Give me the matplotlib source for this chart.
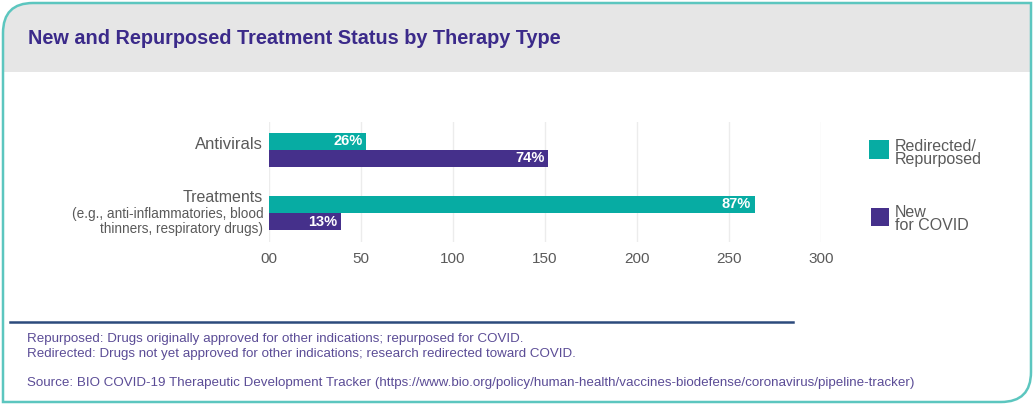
import numpy as np
import matplotlib
matplotlib.use("Agg")
import matplotlib.pyplot as plt
from matplotlib.path import Path
from matplotlib.patches import PathPatch, Rectangle
from matplotlib.lines import Line2D

# --- data ---
categories = ["Antivirals", "Treatments"]
cat_notes = ["", "(e.g., anti-inflammatories, blood\nthinners, respiratory drugs)"]
repurposed = [53, 264]
new_covid = [152, 39]
repurposed_pct = ["26%", "87%"]
new_pct = ["74%", "13%"]
xticks = [0, 50, 100, 150, 200, 250, 300]
xtick_labels = ["00", "50", "100", "150", "200", "250", "300"]

TEAL = "#07aca3"
PURPLE = "#45308b"
TITLE_C = "#3b2a8a"
GREY = "#5a5a5a"
NOTE_C = "#5b4c96"

plt.rcParams["font.family"] = ["Liberation Sans", "DejaVu Sans"]

W, H = 1035, 408
fig = plt.figure(figsize=(W / 100, H / 100), dpi=100)


def px(x, y):
    return x / W, 1 - y / H


# frame: rounded top-left and bottom-right corners
r = 30
x0, y0, x1, y1 = 3, 3, 1031, 402
verts = [px(x0, y0 + r), px(x0, y0), px(x0 + r, y0), px(x1, y0), px(x1, y1 - r),
         px(x1, y1), px(x1 - r, y1), px(x0, y1), px(x0, y0 + r)]
codes = [Path.MOVETO, Path.CURVE3, Path.CURVE3, Path.LINETO, Path.LINETO,
         Path.CURVE3, Path.CURVE3, Path.LINETO, Path.CLOSEPOLY]
frame = PathPatch(Path(verts, codes), transform=fig.transFigure, facecolor="white",
                  edgecolor="none", zorder=-2)
fig.patches.append(frame)
hdr = Rectangle(px(0, 72), 1, 72 / H, transform=fig.transFigure, facecolor="#e6e6e6",
                edgecolor="none", zorder=-1)
hdr.set_clip_path(frame)
fig.patches.append(hdr)
fig.patches.append(PathPatch(Path(verts, codes), transform=fig.transFigure, facecolor="none",
                             edgecolor="#5cc6bf", lw=1.8, zorder=5))

fig.text(*px(28, 39), "New and Repurposed Treatment Status by Therapy Type",
         color=TITLE_C, fontsize=14.3, fontweight="bold", va="center")

# --- bars ---
ax = fig.add_axes([268.75 / W, (H - 242) / H, 552 / W, 120 / H])
ax.set_facecolor("none")
pos = np.arange(len(categories))
h = 0.27
b1 = ax.barh(pos - h / 2, repurposed, height=h, color=TEAL)
b2 = ax.barh(pos + h / 2, new_covid, height=h, color=PURPLE)
for bars, labs in [(b1, repurposed_pct), (b2, new_pct)]:
    for b, t in zip(bars, labs):
        ax.text(b.get_width() - 2, b.get_y() + b.get_height() / 2, t, color="white",
                fontsize=10.5, fontweight="bold", ha="right", va="center")
ax.set_xlim(0, 300)
ax.set_ylim(1.46, -0.444)
ax.set_xticks(xticks)
ax.set_xticklabels(xtick_labels, color=GREY, fontsize=11)
ax.set_yticks([])
ax.tick_params(axis="x", length=0, pad=7)
ax.grid(axis="x", color="#ececec", lw=1)
ax.set_axisbelow(True)
for s in ax.spines.values():
    s.set_visible(False)

# category labels
ax.text(-3, pos[0] - 0.08, categories[0], ha="right", va="center",
        fontsize=12, color=GREY, clip_on=False)
ax.text(-3, pos[1] - 0.24, categories[1], ha="right", va="center",
        fontsize=11.5, color=GREY, clip_on=False)
ax.text(-3, pos[1] + 0.13, cat_notes[1], ha="right", va="center",
        fontsize=9.8, color=GREY, linespacing=1.1, clip_on=False)

# legend
fig.patches.append(Rectangle(px(869, 159), 20 / W, 19 / H, transform=fig.transFigure,
                             facecolor=TEAL, edgecolor="none"))
fig.text(*px(895, 153), "Redirected/\nRepurposed", color=GREY, fontsize=11.5,
         va="center", linespacing=0.85)
fig.patches.append(Rectangle(px(871, 226), 18 / W, 18 / H, transform=fig.transFigure,
                             facecolor=PURPLE, edgecolor="none"))
fig.text(*px(895, 219), "New\nfor COVID", color=GREY, fontsize=11.5,
         va="center", linespacing=0.85)

# footnotes
fig.lines.append(Line2D([10 / W, 793 / W], [1 - 322 / H] * 2, transform=fig.transFigure,
                        color="#2c4a7c", lw=1.8))
fig.text(*px(27, 339), "Repurposed: Drugs originally approved for other indications; repurposed for COVID.",
         color=NOTE_C, fontsize=9.6, va="center")
fig.text(*px(27, 354), "Redirected: Drugs not yet approved for other indications; research redirected toward COVID.",
         color=NOTE_C, fontsize=9.6, va="center")
fig.text(*px(27, 383), "Source: BIO COVID-19 Therapeutic Development Tracker "
         "(https://www.bio.org/policy/human-health/vaccines-biodefense/coronavirus/pipeline-tracker)",
         color=NOTE_C, fontsize=9.6, va="center")

fig.savefig("out.png", dpi=100)
